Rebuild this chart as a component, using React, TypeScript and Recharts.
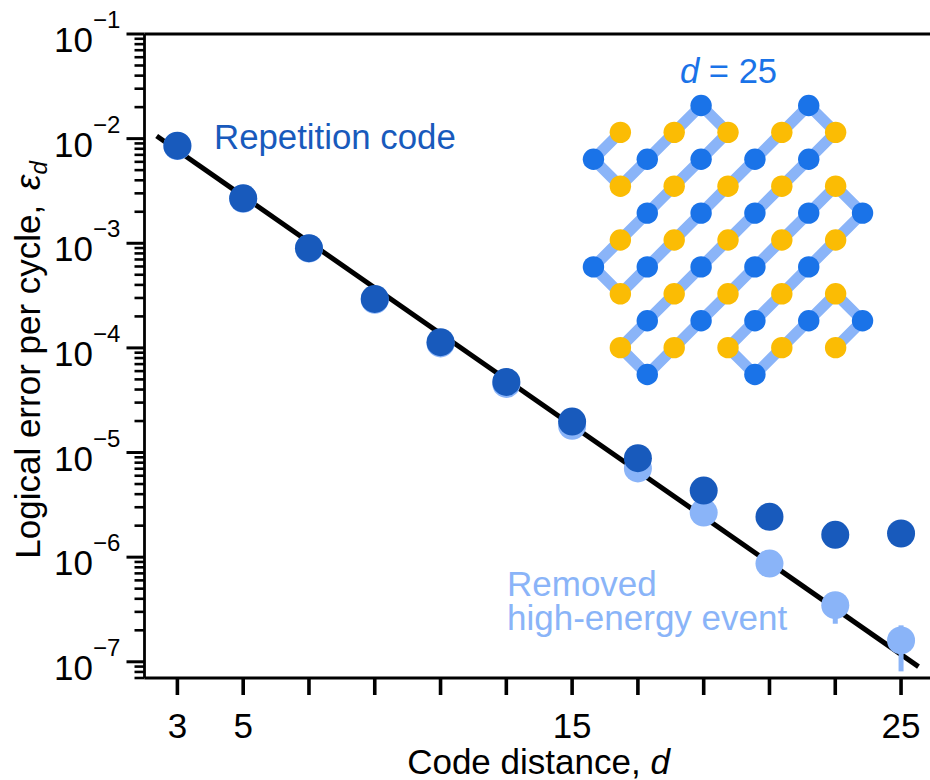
import { ComposedChart, LineChart, Line, XAxis, YAxis, ErrorBar } from 'recharts';

const FONT = '"Liberation Sans", Arial, sans-serif';
const DARK = '#185abc';
const LIGHT = '#8ab4f8';
const BLUE = '#1a73e8';
const YELLOW = '#fbbc04';

const distances = [3, 5, 7, 9, 11, 13, 15, 17, 19, 21, 23, 25];
const withEvent = [8.57e-3, 2.69e-3, 8.97e-4, 2.94e-4, 1.134e-4, 4.73e-5, 1.977e-5, 8.84e-6, 4.33e-6, 2.43e-6, 1.635e-6, 1.683e-6];
const removedEvent = [8.5e-3, 2.66e-3, 8.9e-4, 2.88e-4, 1.104e-4, 4.53e-5, 1.8e-5, 7.05e-6, 2.67e-6, 8.69e-7, 3.48e-7, 1.6e-7];
const removedLow = [0, 0, 0, 0, 0, 0, 0, 0, 0, 0, 1.17e-7, 0.79e-7];
const removedHigh = [0, 0, 0, 0, 0, 0, 0, 0, 0, 0, 1.0e-7, 0.63e-7];

const fitD = [2.37, 25.53];
const fitValues = [0.0106, 9.0e-8];

const xTicks = distances;
const xLabelled = [3, 5, 15, 25];
const decades = [1e-1, 1e-2, 1e-3, 1e-4, 1e-5, 1e-6, 1e-7];
const exponents = ['−1', '−2', '−3', '−4', '−5', '−6', '−7'];
const minorSteps = [9, 8, 7, 6, 5, 4, 3, 2];

// the d = 25 chain, walked qubit by qubit
const chainCols = [1, 0, 1, 2, 3, 4, 5, 4, 3, 2, 1, 0, 1, 2, 3, 4, 5, 6, 7, 8, 9, 8, 7, 6, 5, 4, 3, 2, 1, 2, 3, 4, 5, 6, 7, 8, 9, 10, 9, 8, 7, 6, 5, 6, 7, 8, 9, 10, 9];
const chainRows = [1, 2, 3, 2, 1, 0, 1, 2, 3, 4, 5, 6, 7, 6, 5, 4, 3, 2, 1, 0, 1, 2, 3, 4, 5, 6, 7, 8, 9, 10, 9, 8, 7, 6, 5, 4, 3, 4, 5, 6, 7, 8, 9, 10, 9, 8, 7, 8, 9];

const rows = distances.map((d, i) => ({
  d,
  dark: withEvent[i],
  light: removedEvent[i],
  err: [removedLow[i], removedHigh[i]],
}));
const fitRows = fitD.map((d, i) => ({ d, fit: fitValues[i] }));
const chainData = chainCols.map((col, i) => ({ col, row: chainRows[i] }));

const minorTicks = decades.slice(1).flatMap((m) => minorSteps.map((s) => m * s));
const yTicks = [...decades, ...minorTicks, 8e-8, 9e-8, 7e-8];

function isDecade(v: number) {
  return decades.some((m) => Math.abs(v / m - 1) < 1e-6);
}

function YTick({ x, y, payload }: any) {
  const major = isDecade(payload.value);
  const idx = decades.findIndex((m) => Math.abs(payload.value / m - 1) < 1e-6);
  return (
    <g>
      <line x1={x - (major ? 18 : 10)} x2={x} y1={y} y2={y} stroke="#000" strokeWidth={major ? 3 : 2.6} />
      {major && (
        <text fontFamily={FONT} fill="#000">
          <tspan x={54} y={y + 18} fontSize={35}>10</tspan>
          <tspan x={93} y={y - 6} fontSize={24}>{exponents[idx]}</tspan>
        </text>
      )}
    </g>
  );
}

function XTick({ x, y, payload }: any) {
  return (
    <g>
      <line x1={x} x2={x} y1={y} y2={y + 17} stroke="#000" strokeWidth={3.6} />
      {xLabelled.includes(payload.value) && (
        <text x={x} y={y + 60} textAnchor="middle" fontFamily={FONT} fontSize={35} fill="#000">
          {payload.value}
        </text>
      )}
    </g>
  );
}

function ChainDot({ cx, cy, index }: any) {
  return <circle cx={cx} cy={cy} r={10.7} fill={index % 2 === 0 ? YELLOW : BLUE} />;
}

export default function App() {
  return (
    <div style={{ position: 'absolute', left: 0, top: 0, width: 930, height: 780, background: '#fff' }}>
      <ComposedChart width={930} height={780} data={rows} margin={{ top: 0, right: 0, bottom: 0, left: 0 }}>
        <XAxis
          dataKey="d"
          type="number"
          domain={[2, 25.88]}
          ticks={xTicks}
          interval={0}
          height={102}
          tickSize={0}
          tickMargin={0}
          tick={<XTick />}
          axisLine={{ stroke: '#000', strokeWidth: 2.8 }}
        />
        <XAxis
          xAxisId="top"
          orientation="top"
          type="number"
          domain={[2, 25.88]}
          height={34}
          tick={false}
          tickLine={false}
          axisLine={{ stroke: '#000', strokeWidth: 2.8 }}
        />
        <YAxis
          scale="log"
          domain={[7e-8, 0.1]}
          allowDataOverflow
          ticks={yTicks}
          interval={0}
          width={144.5}
          tickSize={0}
          tickMargin={0}
          tick={<YTick />}
          axisLine={{ stroke: '#000', strokeWidth: 2.8 }}
        />
        <Line data={fitRows} dataKey="fit" stroke="#000" strokeWidth={5} dot={false} activeDot={false} isAnimationActive={false} />
        <Line
          dataKey="light"
          stroke="none"
          dot={{ r: 14, fill: LIGHT, stroke: 'none', fillOpacity: 1 }}
          activeDot={false}
          isAnimationActive={false}
        >
          <ErrorBar dataKey="err" direction="y" width={0} stroke={LIGHT} strokeWidth={5} isAnimationActive={false} />
        </Line>
        <Line
          dataKey="dark"
          stroke="none"
          dot={{ r: 14, fill: DARK, stroke: 'none', fillOpacity: 1 }}
          activeDot={false}
          isAnimationActive={false}
        />

        <text x={214} y={148.5} fontFamily={FONT} fontSize={34.8} fill={DARK}>Repetition code</text>
        <text x={507} y={595.7} fontFamily={FONT} fontSize={35} fill={LIGHT}>Removed</text>
        <text x={507} y={630} fontFamily={FONT} fontSize={35} fill={LIGHT}>high-energy event</text>
        <text x={680} y={83} fontFamily={FONT} fontSize={34.6} fill={BLUE}>
          <tspan fontStyle="italic">d</tspan> = 25
        </text>
        <text x={538.5} y={774} textAnchor="middle" fontFamily={FONT} fontSize={35} fill="#000">
          Code distance, <tspan fontStyle="italic">d</tspan>
        </text>
        <text transform="translate(40,360) rotate(-90)" textAnchor="middle" fontFamily={FONT} fontSize={35} fill="#000">
          Logical error per cycle, <tspan fontStyle="italic" dx={5}>ε</tspan>
          <tspan fontStyle="italic" fontSize={24} dy={7}>d</tspan>
        </text>
      </ComposedChart>

      <div style={{ position: 'absolute', left: 580, top: 92 }}>
        <LineChart width={296} height={296} data={chainData} margin={{ top: 0, right: 0, bottom: 0, left: 0 }}>
          <XAxis dataKey="col" type="number" domain={[-0.5, 10.5]} hide />
          <YAxis type="number" domain={[-0.5, 10.5]} reversed hide />
          <Line
            dataKey="row"
            stroke={LIGHT}
            strokeWidth={11}
            dot={(p: any) => <ChainDot key={p.index} {...p} />}
            activeDot={false}
            isAnimationActive={false}
          />
        </LineChart>
      </div>
    </div>
  );
}
